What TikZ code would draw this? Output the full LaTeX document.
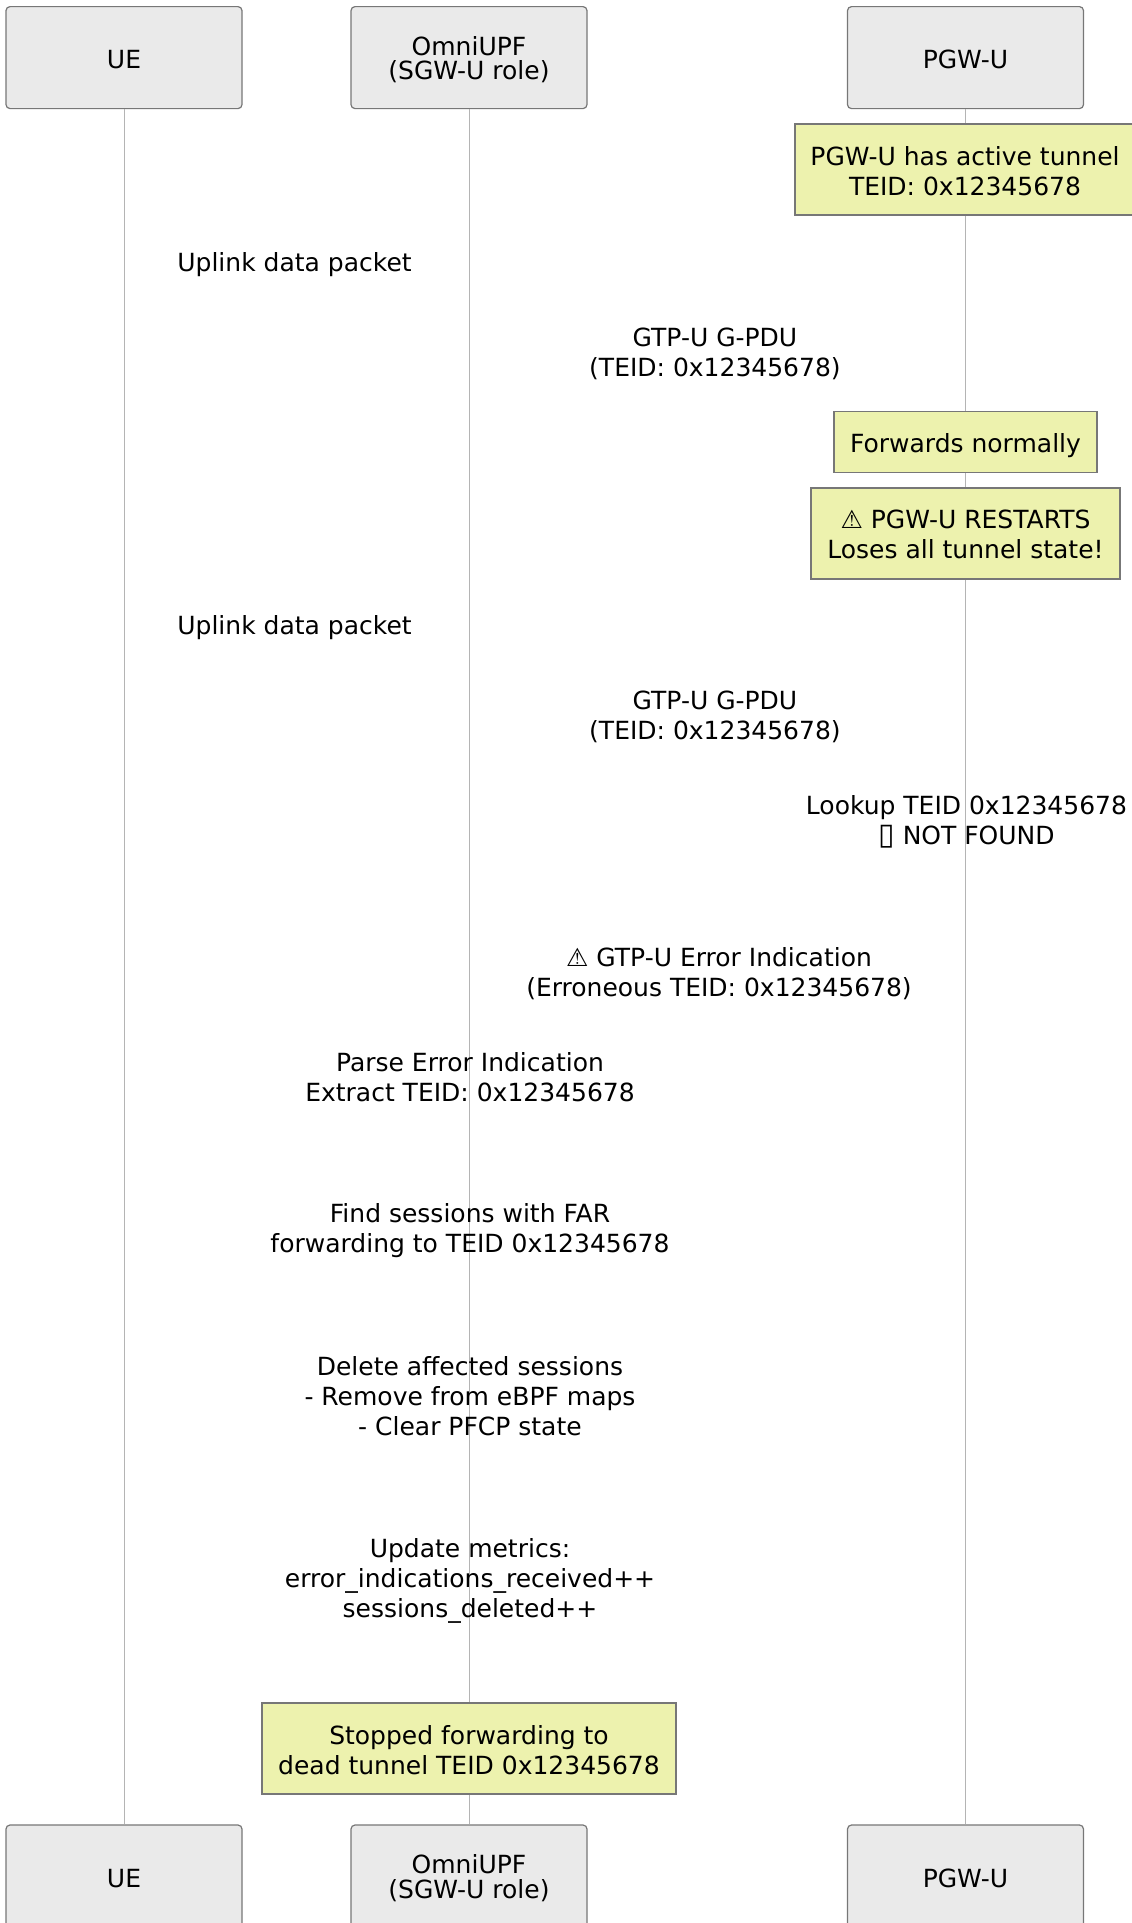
\documentclass[tikz,border=0pt]{standalone}
\usepackage{fontspec}
\setmainfont{DejaVu Sans}
\definecolor{actorfill}{HTML}{EAEAEA}
\definecolor{actorline}{HTML}{777777}
\definecolor{lifeline}{HTML}{B4B4B4}
\definecolor{notefill}{HTML}{EDF2AE}
\newcommand{\dropby}[1]{\rule{0pt}{\dimexpr 19pt+#1*2\relax}}
\tikzset{
  base/.style={font=\fontsize{25}{30}\selectfont,align=center,inner sep=0pt,text=black},
  actorbox/.style={base,draw=actorline,fill=actorfill,line width=1.2pt,rounded corners=4pt,minimum width=236pt,minimum height=102pt},
  notebox/.style={base,draw=actorline,fill=notefill,line width=1.2pt},
  label/.style={base},
  life/.style={draw=lifeline,line width=1pt}
}
\begin{document}
\begin{tikzpicture}[x=1pt,y=-1pt]
\useasboundingbox (0,0) rectangle (1132,1923);
\node[actorbox] (ueT) at (124,57.6) {\dropby{1.5pt}UE};
\node[actorbox] (upfT) at (469,57.6) {\dropby{2pt}OmniUPF\\[-5.5pt](SGW-U role)};
\node[actorbox] (pgwT) at (965.5,57.6) {\dropby{1.5pt}PGW-U};
\node[actorbox] (ueB) at (124,1876) {\dropby{2pt}UE};
\node[actorbox] (upfB) at (469,1876) {\dropby{2pt}OmniUPF\\[-5.5pt](SGW-U role)};
\node[actorbox] (pgwB) at (965.5,1876) {\dropby{2pt}PGW-U};
\draw[life] (ueT) -- (ueB);
\draw[life] (upfT) -- (upfB);
\draw[life] (pgwT) -- (pgwB);
\node[notebox,minimum width=340pt,minimum height=91pt] (n1) at (965,169.5) {\dropby{1.5pt}PGW-U has active tunnel\\TEID: 0x12345678};
\node[notebox,minimum width=263pt,minimum height=61pt] (n2) at (965.5,442) {\dropby{3.5pt}Forwards normally};
\node[notebox,minimum width=309pt,minimum height=91pt] (n3) at (965.5,533.5) {\dropby{1pt}⚠ PGW-U RESTARTS\\Loses all tunnel state!};
\node[notebox,minimum width=414pt,minimum height=91pt] (n4) at (469,1748.5) {\dropby{2pt}Stopped forwarding to\\dead tunnel TEID 0x12345678};
\node[label] (t1) at (294.5,264.5) {Uplink data packet};
\node[label] (t2) at (715,354) {GTP-U G-PDU\\(TEID: 0x12345678)};
\node[label] (t3) at (294.5,627.5) {Uplink data packet};
\node[label] (t4) at (715,717) {GTP-U G-PDU\\(TEID: 0x12345678)};
\node[label] (t5) at (966.5,822) {Lookup TEID 0x12345678\\\scalebox{1.2}{▯} NOT FOUND};
\node[label] (t6) at (719,974) {⚠ GTP-U Error Indication\\(Erroneous TEID: 0x12345678)};
\node[label] (t7) at (470,1077) {Parse Error Indication\\Extract TEID: 0x12345678};
\node[label] (t8) at (470,1231) {Find sessions with FAR\\forwarding to TEID 0x12345678};
\node[label] (t9) at (470,1396.5) {Delete affected sessions\\- Remove from eBPF maps\\- Clear PFCP state};
\node[label] (t10) at (470,1581) {Update metrics:\\error\_indications\_received++\\sessions\_deleted++};
\end{tikzpicture}
\end{document}
